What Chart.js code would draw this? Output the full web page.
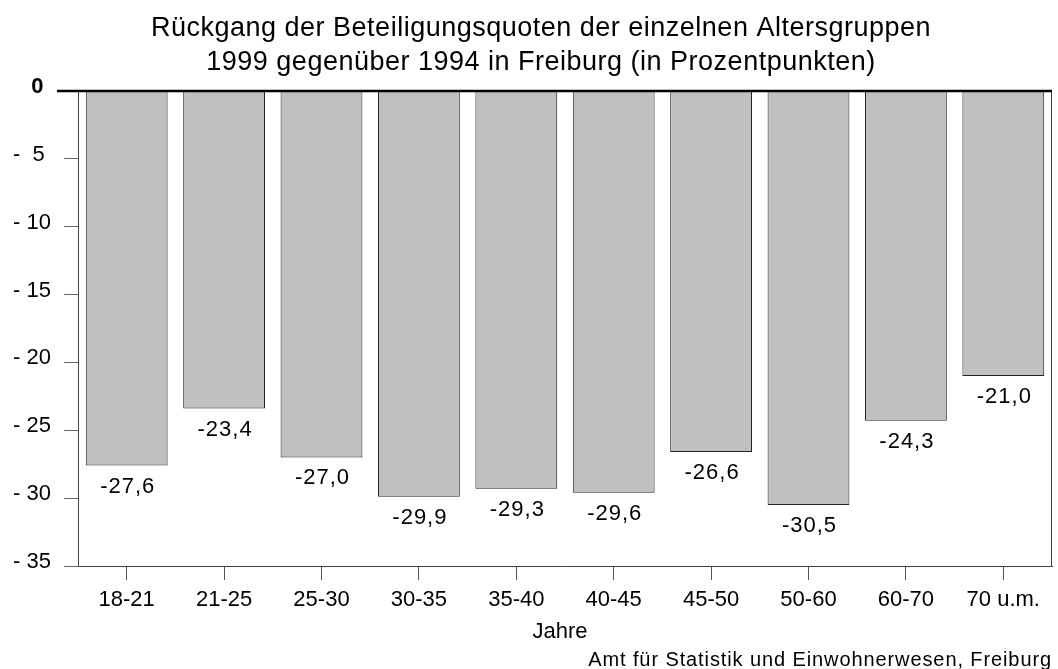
<!DOCTYPE html>
<html>
<head>
<meta charset="utf-8">
<script src="https://cdn.jsdelivr.net/npm/chart.js@4/dist/chart.umd.min.js"></script>
<style>
  html, body { margin: 0; padding: 0; background: #fff; }
  canvas { display: block; }
</style>
</head>
<body>
<canvas id="chart" width="1058" height="669"></canvas>
<script>
// Altersgruppen und Rückgang (Prozentpunkte)
const categories = ['18-21', '21-25', '25-30', '30-35', '35-40', '40-45', '45-50', '50-60', '60-70', '70 u.m.'];
const values = [-27.6, -23.4, -27.0, -29.9, -29.3, -29.6, -26.6, -30.5, -24.3, -21.0];
const yTicks = [0, -5, -10, -15, -20, -25, -30, -35];

const titleLines = [
  'Rückgang der Beteiligungsquoten der einzelnen Altersgruppen',
  '1999 gegenüber 1994 in Freiburg (in Prozentpunkten)'
];
const xTitle = 'Jahre';
const sourceText = 'Amt für Statistik und Einwohnerwesen, Freiburg';

const FONT = '"Liberation Sans", Arial, sans-serif';

const decor = {
  id: 'decor',
  afterDatasetsDraw(chart) {
    const { ctx, chartArea } = chart;
    const y = chart.scales.y;
    ctx.save();

    // value labels under bars
    ctx.fillStyle = '#000';
    ctx.font = '22px ' + FONT;
    ctx.letterSpacing = '1px';
    ctx.textAlign = 'center';
    ctx.textBaseline = 'middle';
    chart.getDatasetMeta(0).data.forEach((bar, i) => {
      const txt = values[i].toFixed(1).replace('.', ',');
      ctx.fillText(txt, bar.x + 1, bar.y + 21);
    });
    ctx.letterSpacing = '0px';

    // right border
    ctx.strokeStyle = '#444';
    ctx.lineWidth = 1;
    ctx.beginPath();
    ctx.moveTo(chartArea.right - 0.5, chartArea.top);
    ctx.lineTo(chartArea.right - 0.5, chartArea.bottom);
    ctx.stroke();

    // zero line
    const y0 = y.getPixelForValue(0);
    ctx.strokeStyle = '#000';
    ctx.lineWidth = 2.5;
    ctx.beginPath();
    ctx.moveTo(57, y0);
    ctx.lineTo(chartArea.right, y0);
    ctx.stroke();
    ctx.restore();
  },
  afterDraw(chart) {
    const { ctx } = chart;
    ctx.save();
    ctx.fillStyle = '#000';
    ctx.textBaseline = 'middle';
    ctx.textAlign = 'center';
    ctx.font = '27px ' + FONT;
    ctx.letterSpacing = '0.5px';
    ctx.fillText(titleLines[0], 541, 29);
    ctx.fillText(titleLines[1], 541, 63);

    ctx.letterSpacing = '0px';
    ctx.font = '22px ' + FONT;
    ctx.fillText(xTitle, 560, 632);

    ctx.font = '20px ' + FONT;
    ctx.letterSpacing = '0.9px';
    ctx.textAlign = 'right';
    ctx.fillText(sourceText, 1052, 660);
    ctx.restore();
  }
};

new Chart(document.getElementById('chart'), {
  type: 'bar',
  data: {
    labels: categories,
    datasets: [{
      data: values,
      backgroundColor: '#c0c0c0',
      borderColor: '#222',
      borderWidth: 1,
      borderSkipped: 'start',
      barPercentage: 0.84,
      categoryPercentage: 1.0
    }]
  },
  options: {
    responsive: false,
    animation: false,
    layout: { padding: { top: 91, right: 6, left: 13, bottom: 0 } },
    plugins: {
      legend: { display: false },
      tooltip: { enabled: false },
      title: { display: false }
    },
    scales: {
      x: {
        grid: { drawOnChartArea: false, drawTicks: true, tickLength: 14, color: '#555', offset: false },
        border: { display: true, color: '#444', width: 1 },
        ticks: { color: '#000', font: { family: FONT, size: 22 }, padding: 7, maxRotation: 0 },
        afterFit(scale) { scale.height = 103; }
      },
      y: {
        min: -35,
        max: 0,
        afterBuildTicks(scale) { scale.ticks = yTicks.map((v) => ({ value: v })); },
        grid: { drawOnChartArea: false, drawTicks: true, tickLength: 14, color: '#666' },
        border: { display: true, color: '#444', width: 1 },
        ticks: {
          color: '#000',
          crossAlign: 'far',
          labelOffset: -4,
          font: (c) => (c.tick && c.tick.value === 0
            ? { family: FONT, size: 22, weight: 'bold' }
            : { family: FONT, size: 22 }),
          callback: (v) => {
            if (v === 0) return '   0';
            const n = Math.abs(v);
            return n < 10 ? '-  ' + n : '- ' + n;
          }
        },
        afterFit(scale) { scale.width = 65; }
      }
    }
  },
  plugins: [decor]
});
</script>
</body>
</html>
